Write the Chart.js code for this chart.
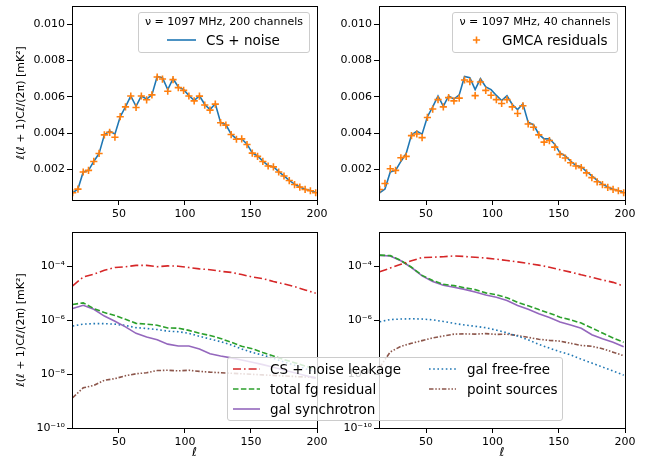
<!DOCTYPE html>
<html>
<head>
<meta charset="utf-8">
<script src="https://cdn.jsdelivr.net/npm/chart.js@4.4.1/dist/chart.umd.min.js"></script>
<style>
  body { margin: 0; background: #fff; font-family: 'DejaVu Sans', sans-serif; }
  #fig { position: relative; width: 656px; height: 466px; overflow: hidden; }
  #fig canvas { position: absolute; }
  .leg { position: absolute; box-sizing: border-box; background: rgba(255,255,255,0.8); border: 1px solid #ccc; border-radius: 3px; }
  .leg-title { position: absolute; left: 0; right: 0; text-align: center; font-size: 11px; line-height: 14px; white-space: nowrap; }
  .leg-text { position: absolute; font-size: 13.5px; line-height: 18px; white-space: nowrap; color: #000; }
  .leg-handle { position: absolute; height: 12px; }
  .leg-handle svg { display: block; }
</style>
</head>
<body>
<div id="fig">
  <canvas id="tl" width="328" height="222" style="left:0;top:0"></canvas>
  <canvas id="tr" width="328" height="222" style="left:328px;top:0"></canvas>
  <canvas id="bl" width="328" height="244" style="left:0;top:222px"></canvas>
  <canvas id="br" width="328" height="244" style="left:328px;top:222px"></canvas>
</div>
<script>
// ── Data: top panels (linear, mK^2) ──
const ell = [15,19,23,27,31,35,39,43,47,51,55,59,63,67,71,75,79,83,87,91,95,99,103,107,111,115,119,123,127,131,135,139,143,147,151,155,159,163,167,171,175,179,183,187,191,195,199];

const csNoise = [0.00073,0.00093,0.00187,0.00196,0.00245,0.00289,0.00391,0.00412,0.00395,0.00491,0.00545,0.00605,0.00548,0.00605,0.00588,0.00611,0.00712,0.00706,0.00640,0.00700,0.00655,0.00640,0.00608,0.00580,0.00606,0.00558,0.00530,0.00562,0.00460,0.00447,0.00395,0.00369,0.00370,0.00340,0.00292,0.00275,0.00247,0.00222,0.00216,0.00189,0.00166,0.00141,0.00120,0.00105,0.00092,0.00085,0.00074];
const gmca200 = [0.00073,0.00093,0.00187,0.00196,0.00245,0.00289,0.00391,0.00405,0.00378,0.00491,0.00545,0.00605,0.00542,0.00605,0.00584,0.00611,0.00709,0.00698,0.00631,0.00695,0.00651,0.00636,0.00605,0.00578,0.00604,0.00555,0.00527,0.00560,0.00458,0.00445,0.00393,0.00367,0.00369,0.00338,0.00291,0.00273,0.00245,0.00220,0.00215,0.00187,0.00165,0.00140,0.00118,0.00104,0.00091,0.00084,0.00073];
const gmca40 = [0.00091,0.00124,0.00205,0.00196,0.00265,0.00273,0.00387,0.00396,0.00376,0.00487,0.00533,0.00585,0.00545,0.00596,0.00578,0.00593,0.00693,0.00684,0.00607,0.00682,0.00636,0.00609,0.00585,0.00564,0.00585,0.00545,0.00509,0.00551,0.00451,0.00433,0.00391,0.00351,0.00360,0.00324,0.00284,0.00264,0.00238,0.00220,0.00211,0.00182,0.00156,0.00133,0.00118,0.00102,0.00091,0.00084,0.00073];

// ── Data: bottom panels, stored as log10 of the value ──
const ellB = [15,23,31,39,47,55,63,71,79,87,95,103,111,119,127,135,143,151,159,167,175,183,191,199];

// 200 channels
const leakL = [-4.73,-4.40,-4.30,-4.15,-4.05,-4.02,-3.97,-3.97,-4.02,-3.99,-4.00,-4.05,-4.10,-4.13,-4.19,-4.23,-4.31,-4.40,-4.46,-4.57,-4.66,-4.76,-4.88,-5.00];
const fgL   = [-5.42,-5.36,-5.57,-5.72,-5.83,-5.97,-6.12,-6.15,-6.19,-6.29,-6.30,-6.38,-6.49,-6.57,-6.68,-6.82,-6.97,-7.06,-7.20,-7.33,-7.46,-7.58,-7.70,-7.82];
const syncL = [-5.57,-5.45,-5.60,-5.85,-6.04,-6.25,-6.49,-6.63,-6.73,-6.89,-6.96,-6.96,-7.07,-7.25,-7.33,-7.40,-7.48,-7.56,-7.65,-7.75,-7.85,-7.95,-8.05,-8.15];
const ffL   = [-6.22,-6.15,-6.13,-6.13,-6.15,-6.20,-6.28,-6.31,-6.35,-6.41,-6.43,-6.49,-6.60,-6.70,-6.80,-6.92,-7.07,-7.20,-7.30,-7.42,-7.55,-7.67,-7.80,-7.92];
const psL   = [-8.88,-8.51,-8.42,-8.23,-8.17,-8.06,-7.99,-7.95,-7.87,-7.86,-7.88,-7.86,-7.90,-7.93,-7.95,-7.97,-7.99,-8.01,-8.03,-8.05,-8.07,-8.09,-8.11,-8.13];

// 40 channels
const leakR = [-4.21,-4.07,-3.93,-3.80,-3.68,-3.67,-3.65,-3.62,-3.64,-3.67,-3.70,-3.74,-3.79,-3.84,-3.90,-3.96,-4.04,-4.13,-4.22,-4.32,-4.41,-4.51,-4.60,-4.74];
const fgR   = [-3.59,-3.61,-3.79,-4.04,-4.34,-4.53,-4.67,-4.72,-4.80,-4.87,-4.99,-5.06,-5.17,-5.34,-5.47,-5.61,-5.74,-5.89,-5.99,-6.11,-6.29,-6.48,-6.66,-6.82];
const syncR = [-3.60,-3.62,-3.80,-4.05,-4.36,-4.57,-4.71,-4.78,-4.86,-4.96,-5.07,-5.15,-5.27,-5.46,-5.60,-5.76,-5.90,-6.07,-6.18,-6.30,-6.54,-6.69,-6.82,-6.99];
const ffR   = [-6.06,-5.98,-5.96,-5.95,-5.96,-5.99,-6.05,-6.12,-6.18,-6.23,-6.28,-6.37,-6.47,-6.59,-6.73,-6.90,-7.04,-7.17,-7.29,-7.45,-7.59,-7.74,-7.89,-8.04];
const psR   = [-7.75,-7.18,-6.97,-6.86,-6.76,-6.66,-6.59,-6.52,-6.51,-6.52,-6.50,-6.53,-6.52,-6.57,-6.64,-6.71,-6.75,-6.78,-6.86,-6.94,-6.97,-7.06,-7.19,-7.32];

// ── Axes ──
const xTicks = [50, 100, 150, 200];
const linTicks = [0.002, 0.004, 0.006, 0.008, 0.010];
const logTicks = [1e-10, 1e-8, 1e-6, 1e-4];
const X_MIN = 14.5, X_MAX = 200;
const LIN_MIN = 0.00033, LIN_MAX = 0.01102;
const LOG_MIN = 1e-10, LOG_MAX = 1.85e-3;
const Y_TITLE = 'ℓ(ℓ + 1)Cℓ/(2π) [mK²]';

const C = { blue: '#1f77b4', orange: '#ff7f0e', green: '#2ca02c', red: '#d62728', purple: '#9467bd', brown: '#8c564b' };

Chart.defaults.font.family = "'DejaVu Sans', sans-serif";
Chart.defaults.font.size = 11;
Chart.defaults.color = '#000';
Chart.defaults.animation = false;

const pts = (xs, ys) => xs.map((x, i) => ({ x, y: ys[i] }));
const fromLog = arr => arr.map(e => Math.pow(10, e));
const SUP = '⁰¹²³⁴⁵⁶⁷⁸⁹';
const supExp = v => String(Math.round(Math.log10(v))).replace('-', '⁻').replace(/\d/g, d => SUP[d]);

// chart frame on all four sides, like matplotlib spines
const framePlugin = {
  id: 'frame',
  afterDraw(chart) {
    const { ctx, chartArea: a } = chart;
    ctx.save();
    ctx.strokeStyle = '#000';
    ctx.lineWidth = 1;
    const l = Math.round(a.left) + 0.5, t = Math.round(a.top) + 0.5;
    ctx.strokeRect(l, t, Math.round(a.right) - Math.round(a.left), Math.round(a.bottom) - Math.round(a.top));
    ctx.restore();
  }
};

function xAxis(withTitle) {
  return {
    type: 'linear', min: X_MIN, max: X_MAX,
    afterBuildTicks: s => { s.ticks = xTicks.map(value => ({ value })); },
    afterFit: s => { s.height = withTitle ? 38 : 22; s.paddingLeft = 0; s.paddingRight = 0; },
    grid: { drawOnChartArea: false, tickLength: 5, tickColor: '#000' },
    border: { display: false },
    ticks: { padding: 3, maxRotation: 0, autoSkip: false },
    title: { display: withTitle, text: 'ℓ', font: { size: 12, style: 'italic' }, padding: { top: 0, bottom: 6 } }
  };
}

function yAxis(log, width, withTitle) {
  return {
    type: log ? 'logarithmic' : 'linear',
    min: log ? LOG_MIN : LIN_MIN,
    max: log ? LOG_MAX : LIN_MAX,
    afterBuildTicks: s => { s.ticks = (log ? logTicks : linTicks).map(value => ({ value })); },
    afterFit: s => { s.width = width; s.paddingTop = 0; s.paddingBottom = 0; },
    grid: { drawOnChartArea: false, tickLength: 5, tickColor: '#000' },
    border: { display: false },
    ticks: { padding: 2, autoSkip: false, callback: log ? v => '10' + supExp(v) : v => v.toFixed(3) },
    title: { display: withTitle, text: Y_TITLE, padding: { top: 15, bottom: 0 } }
  };
}

function makeChart(id, datasets, log, leftPanel, bottomRow) {
  return new Chart(document.getElementById(id), {
    type: 'line',
    data: { datasets },
    options: {
      responsive: false,
      maintainAspectRatio: false,
      parsing: true,
      layout: { padding: { top: bottomRow ? 10 : 4, right: leftPanel ? 11 : 31, left: 0, bottom: 0 } },
      scales: { x: xAxis(bottomRow), y: yAxis(log, leftPanel ? 72 : 51, leftPanel) },
      plugins: { legend: { display: false }, tooltip: { enabled: false } },
      elements: { line: { tension: 0 } }
    },
    plugins: [framePlugin]
  });
}

// ── Datasets ──
function topSets(crosses) {
  return [
    { label: 'GMCA residuals', data: pts(ell, crosses), showLine: false, pointStyle: 'cross',
      pointRadius: 3.6, pointBorderWidth: 1.6, pointBorderColor: C.orange, borderColor: C.orange, backgroundColor: C.orange },
    { label: 'CS + noise', data: pts(ell, csNoise), borderColor: C.blue, borderWidth: 1.6, pointRadius: 0 }
  ];
}

function line(label, ys, color, dash) {
  return { label, data: pts(ellB, fromLog(ys)), borderColor: color, backgroundColor: color,
           borderWidth: 1.6, borderDash: dash, pointRadius: 0 };
}

const DASHDOT = [8, 3, 1.6, 3];
const DASHED = [5.5, 2.4];
const DOTTED = [1.6, 2.6];
const DASHDOTDOT = [4.5, 1.8, 1.5, 1.8, 1.5, 1.8];

function bottomSets(leak, fg, sync, ff, ps) {
  return [
    line('CS + noise leakage', leak, C.red, DASHDOT),
    line('total fg residual', fg, C.green, DASHED),
    line('gal synchrotron', sync, C.purple, []),
    line('gal free-free', ff, C.blue, DOTTED),
    line('point sources', ps, C.brown, DASHDOTDOT)
  ];
}

const chartTL = makeChart('tl', topSets(gmca200), false, true, false);
const chartTR = makeChart('tr', topSets(gmca40), false, false, false);
const chartBL = makeChart('bl', bottomSets(leakL, fgL, syncL, ffL, psL), true, true, true);
const chartBR = makeChart('br', bottomSets(leakR, fgR, syncR, ffR, psR), true, false, true);

// ── Legends (matplotlib-style boxes drawn over the canvases) ──
function handleSvg(ds, w) {
  if (ds.showLine === false) {
    const c = w / 2;
    return `<svg width="${w}" height="12"><path d="M${c - 3.6} 6H${c + 3.6}M${c} 2.4V9.6" stroke="${ds.pointBorderColor}" stroke-width="1.6" fill="none"/></svg>`;
  }
  const dash = (ds.borderDash || []).join(' ');
  return `<svg width="${w}" height="12"><line x1="0" y1="6" x2="${w}" y2="6" stroke="${ds.borderColor}" stroke-width="${ds.borderWidth}" stroke-dasharray="${dash}"/></svg>`;
}

function legendBox(chart, spec) {
  const box = document.createElement('div');
  box.className = 'leg';
  Object.assign(box.style, { left: spec.x + 'px', top: spec.y + 'px', width: spec.w + 'px', height: spec.h + 'px' });
  if (spec.title) {
    const t = document.createElement('div');
    t.className = 'leg-title';
    t.textContent = spec.title;
    t.style.top = spec.titleY + 'px';
    box.appendChild(t);
  }
  spec.items.forEach(it => {
    const ds = chart.data.datasets[it.ds];
    const h = document.createElement('div');
    h.className = 'leg-handle';
    h.style.left = it.hx + 'px';
    h.style.top = (it.cy - 6) + 'px';
    h.innerHTML = handleSvg(ds, it.hw);
    const s = document.createElement('span');
    s.className = 'leg-text';
    s.textContent = ds.label;
    s.style.left = it.tx + 'px';
    s.style.top = (it.cy - 9) + 'px';
    box.append(h, s);
  });
  document.getElementById('fig').appendChild(box);
}

legendBox(chartTL, { x: 138, y: 12, w: 172, h: 41, title: 'ν = 1097 MHz, 200 channels', titleY: 2,
  items: [{ ds: 1, hx: 28, hw: 29, tx: 67, cy: 27 }] });
legendBox(chartTR, { x: 452, y: 12, w: 166, h: 41, title: 'ν = 1097 MHz, 40 channels', titleY: 2,
  items: [{ ds: 0, hx: 9, hw: 29, tx: 49, cy: 27 }] });
legendBox(chartBL, { x: 227, y: 357, w: 336, h: 64,
  items: [
    { ds: 0, hx: 5, hw: 27, tx: 42, cy: 11 },
    { ds: 1, hx: 5, hw: 27, tx: 42, cy: 30.5 },
    { ds: 2, hx: 5, hw: 27, tx: 42, cy: 50.5 },
    { ds: 3, hx: 201, hw: 27, tx: 239, cy: 11 },
    { ds: 4, hx: 201, hw: 27, tx: 239, cy: 30.5 }
  ] });
</script>
</body>
</html>
